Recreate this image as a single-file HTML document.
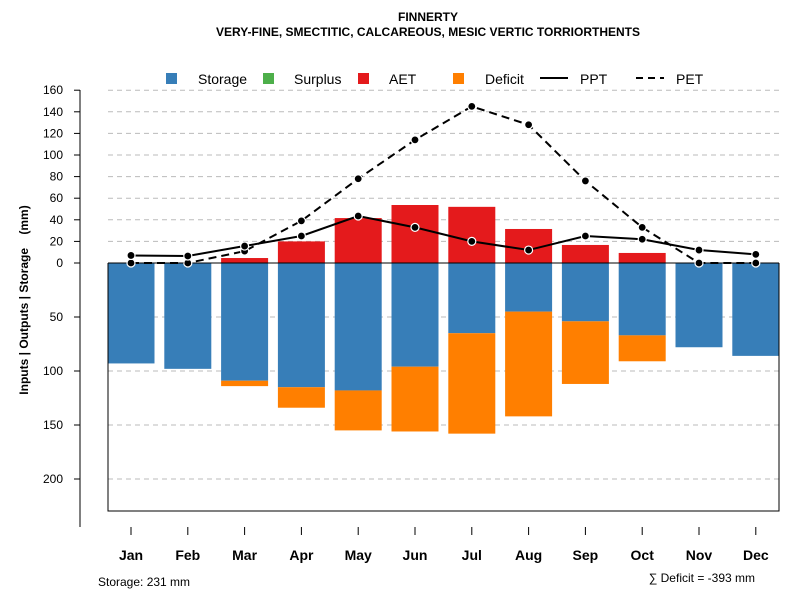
<!DOCTYPE html>
<html><head><meta charset="utf-8"><style>
body{margin:0;background:#fff;font-family:"Liberation Sans",sans-serif}
svg text{font-family:"Liberation Sans",sans-serif}
</style></head><body>
<svg id="chart" width="800" height="600" xmlns="http://www.w3.org/2000/svg">
<text x="428" y="21" text-anchor="middle" font-size="12" font-weight="bold">FINNERTY</text>
<text x="428" y="36" text-anchor="middle" font-size="12" font-weight="bold">VERY-FINE, SMECTITIC, CALCAREOUS, MESIC VERTIC TORRIORTHENTS</text>
<g id="grid"></g><g id="bars"></g><g id="lines"></g><g id="axes"></g>
<g font-size="14">
<rect x="166" y="73" width="11" height="11" fill="#377eb8"/><text x="198" y="84">Storage</text>
<rect x="263" y="73" width="11" height="11" fill="#4daf4a"/><text x="294" y="84">Surplus</text>
<rect x="358" y="73" width="11" height="11" fill="#e41a1c"/><text x="389" y="84">AET</text>
<rect x="453" y="73" width="11" height="11" fill="#ff7f00"/><text x="485" y="84">Deficit</text>
<line x1="540" y1="78" x2="568" y2="78" stroke="#000" stroke-width="2"/><text x="580" y="84">PPT</text>
<line x1="636" y1="78" x2="664" y2="78" stroke="#000" stroke-width="2" stroke-dasharray="7,5"/><text x="676" y="84">PET</text>
</g>
<text transform="translate(28,300) rotate(-90)" text-anchor="middle" font-size="12" font-weight="bold" style="white-space:pre">Inputs | Outputs | Storage    (mm)</text>
<text x="98" y="586" font-size="12">Storage: 231 mm</text>
<text x="755" y="582" text-anchor="end" font-size="12">∑ Deficit = -393 mm</text>
</svg>
<script>
const months=["Jan","Feb","Mar","Apr","May","Jun","Jul","Aug","Sep","Oct","Nov","Dec"];
const storage=[93,98,109,115,118,96,65,45,54,67,78,86];
const deficit=[0,0,5,19,37,60,93,97,58,24,0,0];
const aet=[0,0,4.6,20,41.6,53.7,52,31.5,16.7,9.3,0,0];
const ppt=[7,6.5,15.7,25,43.5,33,20,12,25,22,12,8];
const pet=[0,0,11,39,78,114,145,128,76,33,0,0];
const posTicks=[0,20,40,60,80,100,120,140,160];
const negTicks=[50,100,150,200];
const NS="http://www.w3.org/2000/svg";
const y0=263,k=1.08;
const y=v=>y0-v*k;
const x=i=>131+i*56.8;
const bw=47;
function mk(p,t,a){const e=document.createElementNS(NS,t);for(const n in a)e.setAttribute(n,a[n]);document.getElementById(p).appendChild(e);return e;}
posTicks.forEach(t=>{if(t>0){const g=mk('grid','line',{x1:108,x2:779,y1:y(t),y2:y(t),stroke:'#bbb','stroke-dasharray':'5,4'});

}});
negTicks.forEach(t=>{const g=mk('grid','line',{x1:108,x2:779,y1:y(-t),y2:y(-t),stroke:'#bbb','stroke-dasharray':'5,4'});

});
months.forEach((m,i)=>{
 const cx=x(i);
 let r=mk('bars','rect',{x:cx-bw/2,y:y0,width:bw,height:storage[i]*k,fill:'#377eb8'});
 
 
 if(deficit[i]>0){r=mk('bars','rect',{x:cx-bw/2,y:y0+storage[i]*k,width:bw,height:deficit[i]*k,fill:'#ff7f00'});
 
 }
 if(aet[i]>0){r=mk('bars','rect',{x:cx-bw/2,y:y(aet[i]),width:bw,height:aet[i]*k,fill:'#e41a1c'});
 
 }
});
let zl=mk('bars','line',{x1:108,x2:779,y1:y0,y2:y0,stroke:'#000','stroke-width':1});


function series(vals,name,dash){
 const p=mk('lines','polyline',{points:vals.map((v,i)=>x(i)+','+y(v)).join(' '),fill:'none',stroke:'#000','stroke-width':2,'stroke-dasharray':dash});
 
 
 vals.forEach((v,i)=>{const c=mk('lines','circle',{cx:x(i),cy:y(v),r:4,fill:'#000',stroke:'#fff','stroke-width':1.2});
 
 });
}
series(pet,'pet','8,5');series(ppt,'ppt','none');
let a=mk('axes','path',{d:'M108 263V511H779V263',fill:'none',stroke:'#000'});


a=mk('axes','line',{x1:80,x2:80,y1:90,y2:527,stroke:'#000'});


posTicks.forEach(t=>{mk('axes','line',{x1:74,x2:80,y1:y(t),y2:y(t),stroke:'#000'});
 const tx=mk('axes','text',{x:63,y:y(t)+4,'text-anchor':'end','font-size':12});tx.textContent=t;
 
 });
negTicks.forEach(t=>{mk('axes','line',{x1:74,x2:80,y1:y(-t),y2:y(-t),stroke:'#000'});
 const tx=mk('axes','text',{x:63,y:y(-t)+4,'text-anchor':'end','font-size':12});tx.textContent=t;
 
 });
months.forEach((m,i)=>{mk('axes','line',{x1:x(i),x2:x(i),y1:527,y2:535,stroke:'#000'});
 const tx=mk('axes','text',{x:x(i),y:560,'text-anchor':'middle','font-size':14,'font-weight':'bold'});tx.textContent=m;
 
 });
</script>
</body></html>
